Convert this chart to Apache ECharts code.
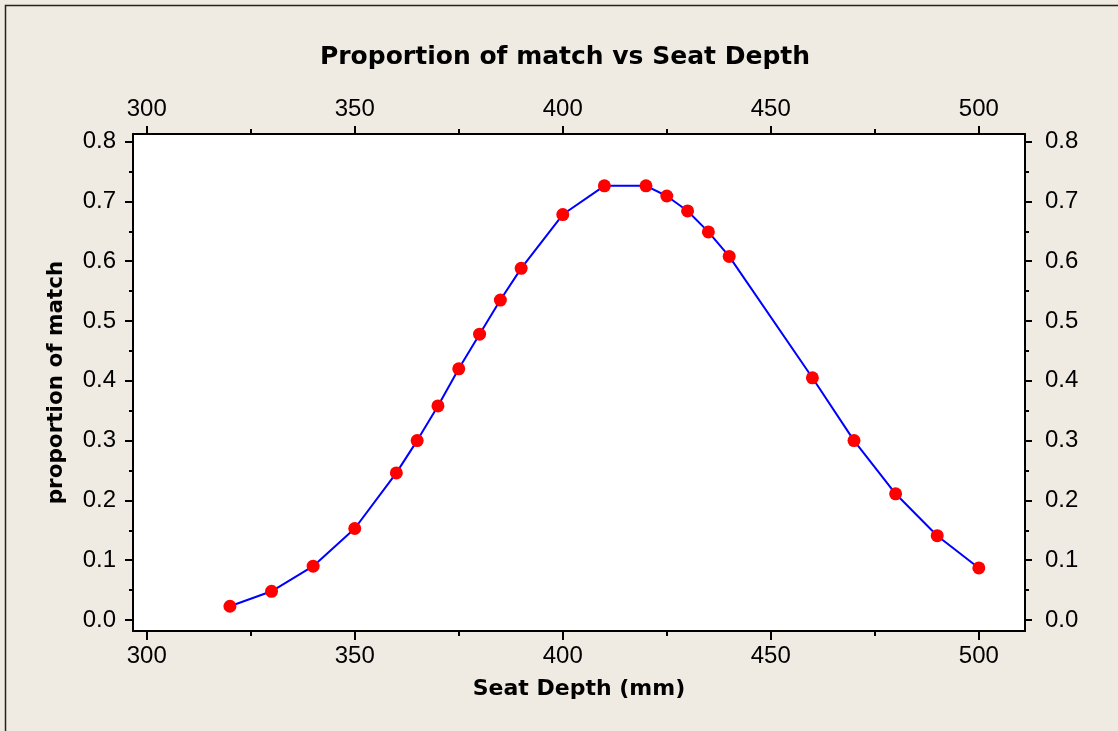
<!DOCTYPE html>
<html>
<head>
<meta charset="utf-8">
<script src="https://cdn.jsdelivr.net/npm/echarts@6/dist/echarts.min.js"></script>
<style>
html,body{margin:0;padding:0;background:#EFEBE2;}
#chart{width:1118px;height:731px;}
</style>
</head>
<body>
<div id="chart"></div>
<script>
// ---- data ----
var seatDepth = [320, 330, 340, 350, 360, 365, 370, 375, 380, 385, 390, 400, 410, 420, 425, 430, 435, 440, 460, 470, 480, 490, 500];
var proportion = [0.023, 0.048, 0.090, 0.153, 0.246, 0.300, 0.358, 0.420, 0.478, 0.535, 0.588, 0.678, 0.726, 0.726, 0.709, 0.684, 0.649, 0.608, 0.405, 0.300, 0.211, 0.141, 0.087];
var xMajorTicks = [300, 350, 400, 450, 500];
var xMinorTicks = [325, 375, 425, 475];
var yMajorTicks = [0.0, 0.1, 0.2, 0.3, 0.4, 0.5, 0.6, 0.7, 0.8];
var yMinorTicks = [0.05, 0.15, 0.25, 0.35, 0.45, 0.55, 0.65, 0.75];
var titleText = 'Proportion of match vs Seat Depth';
var xTitle = 'Seat Depth (mm)';
var yTitle = 'proportion of match';

var X_MIN = 296.7, X_MAX = 511.1, Y_MIN = -0.0184, Y_MAX = 0.8127;
var labelFont = {fontFamily: 'Liberation Sans', fontSize: 24, color: '#000'};

function xAxisDef(pos, ticks, len, labels) {
  return {
    type: 'value', position: pos, min: X_MIN, max: X_MAX, gridIndex: 0,
    axisLine: {show: labels, onZero: false, lineStyle: {color: '#000', width: 2}},
    axisTick: {show: true, inside: false, length: len, customValues: ticks, lineStyle: {color: '#000', width: 2}},
    axisLabel: labels ? Object.assign({show: true, margin: 13, customValues: ticks, formatter: function (v) { return String(Math.round(v)); }}, labelFont) : {show: false},
    splitLine: {show: false}, minorTick: {show: false}
  };
}
function yAxisDef(pos, ticks, len, labels, margin) {
  return {
    type: 'value', position: pos, min: Y_MIN, max: Y_MAX, gridIndex: 0,
    axisLine: {show: labels, onZero: false, lineStyle: {color: '#000', width: 2}},
    axisTick: {show: true, inside: false, length: len, customValues: ticks, lineStyle: {color: '#000', width: 2}},
    axisLabel: labels ? Object.assign({show: true, margin: margin, customValues: ticks, formatter: function (v) { return v.toFixed(1); }}, labelFont) : {show: false},
    splitLine: {show: false}, minorTick: {show: false}
  };
}

var xAxes = [
  xAxisDef('bottom', xMajorTicks, 9, true),
  xAxisDef('bottom', xMinorTicks, 5, false),
  xAxisDef('top', xMajorTicks, 8, true),
  xAxisDef('top', xMinorTicks, 5, false)
];
xAxes[0].name = xTitle;
xAxes[0].nameLocation = 'middle';
xAxes[0].nameGap = 47;
xAxes[0].nameTextStyle = {fontFamily: 'DejaVu Sans', fontWeight: 'bold', fontSize: 22, color: '#000'};

var yAxes = [
  yAxisDef('left', yMajorTicks, 8, true, 17),
  yAxisDef('left', yMinorTicks, 4, false, 0),
  yAxisDef('right', yMajorTicks, 7, true, 20),
  yAxisDef('right', yMinorTicks, 4, false, 0)
];
yAxes[0].name = yTitle;
yAxes[0].nameLocation = 'middle';
yAxes[0].nameGap = 66;
yAxes[0].nameTextStyle = {fontFamily: 'DejaVu Sans', fontWeight: 'bold', fontSize: 21.5, color: '#000'};

var chart = echarts.init(document.getElementById('chart'), null, {renderer: 'canvas'});
chart.setOption({
  animation: false,
  backgroundColor: '#EFEBE2',
  graphic: [{
    type: 'rect', z: -1, silent: true,
    shape: {x: 5.5, y: 5.5, width: 1300, height: 900},
    style: {fill: 'none', stroke: '#222', lineWidth: 1.5}
  }],
  title: {
    text: titleText, left: 565, top: 45, textAlign: 'center', padding: 0,
    textStyle: {fontFamily: 'DejaVu Sans', fontWeight: 'bold', fontSize: 25, color: '#000'}
  },
  grid: {
    left: 133, right: 93, top: 134, bottom: 100,
    show: true, backgroundColor: '#FFFFFF', borderWidth: 0,
    outerBoundsMode: 'none', containLabel: false
  },
  xAxis: xAxes,
  yAxis: yAxes,
  series: [{
    type: 'line',
    xAxisIndex: 0, yAxisIndex: 0,
    data: seatDepth.map(function (x, i) { return [x, proportion[i]]; }),
    symbol: 'circle', symbolSize: 13, showAllSymbol: true,
    lineStyle: {color: '#0000FF', width: 2},
    itemStyle: {color: '#FF0000', borderWidth: 0},
    clip: false
  }]
});
</script>
</body>
</html>
